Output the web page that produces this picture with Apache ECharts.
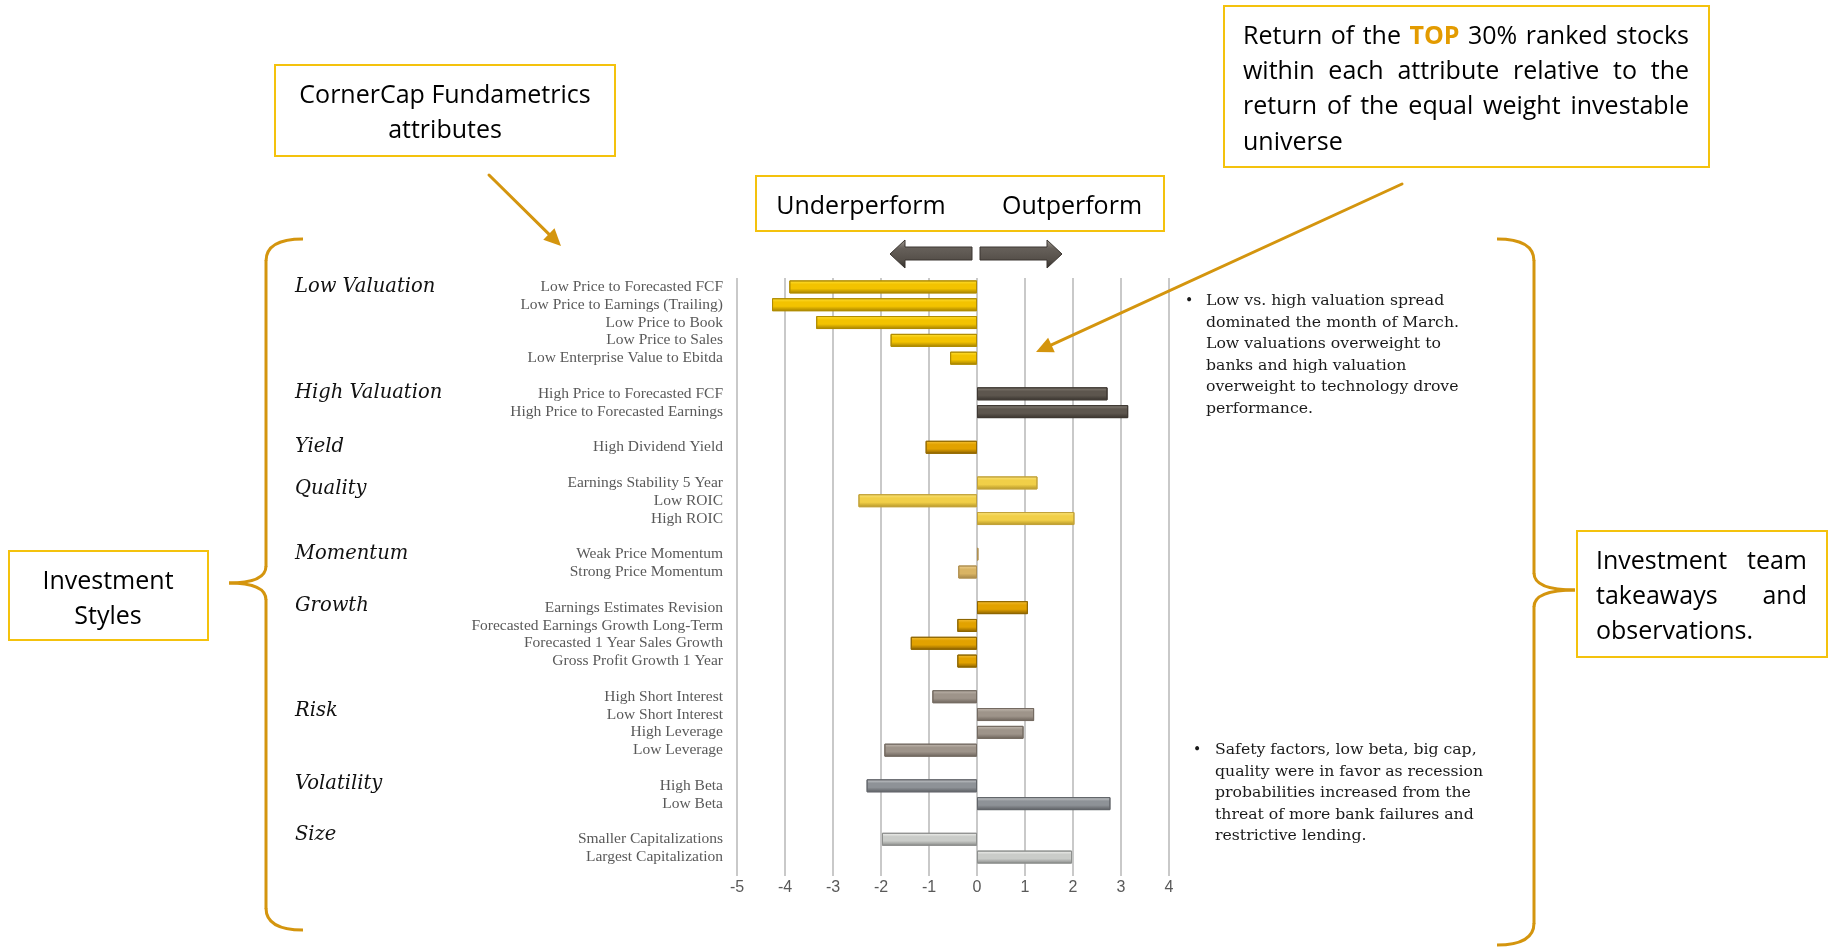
<!DOCTYPE html>
<html>
<head>
<meta charset="utf-8">
<script src="https://cdn.jsdelivr.net/npm/echarts@6/dist/echarts.min.js"></script>
<style>
html,body{margin:0;padding:0;background:#fff;}
#chart{width:1829px;height:948px;}
</style>
</head>
<body>
<div id="chart"></div>
<script>
// ---------------- DATA ----------------
const groupNames = ['Low Valuation','High Valuation','Yield','Quality','Momentum','Growth','Risk','Volatility','Size'];
const attributes = [
  'Low Price to Forecasted FCF','Low Price to Earnings (Trailing)','Low Price to Book','Low Price to Sales','Low Enterprise Value to Ebitda',
  'High Price to Forecasted FCF','High Price to Forecasted Earnings',
  'High Dividend Yield',
  'Earnings Stability 5 Year','Low ROIC','High ROIC',
  'Weak Price Momentum','Strong Price Momentum',
  'Earnings Estimates Revision','Forecasted Earnings Growth Long-Term','Forecasted 1 Year Sales Growth','Gross Profit Growth 1 Year',
  'High Short Interest','Low Short Interest','High Leverage','Low Leverage',
  'High Beta','Low Beta',
  'Smaller Capitalizations','Largest Capitalization'
];
const values = [
  -3.91,-4.27,-3.35,-1.80,-0.56,
  2.72,3.15,
  -1.07,
  1.26,-2.47,2.03,
  0.03,-0.39,
  1.06,-0.41,-1.38,-0.41,
  -0.93,1.19,0.97,-1.93,
  -2.30,2.78,
  -1.98,1.98
];
const groupOfAttribute = [0,0,0,0,0,1,1,2,3,3,3,4,4,5,5,5,5,6,6,6,6,7,7,8,8];
const xTicks = {min:-5, max:4, interval:1};

// ---------------- STYLE ----------------
const groupColors = [
  {light:'#FFE23A', main:'#F3C300', dark:'#A27F00', border:'#B08C00'},
  {light:'#8E877E', main:'#5D564E', dark:'#38332D', border:'#3E3832'},
  {light:'#F7C43A', main:'#E2A200', dark:'#8A6000', border:'#946A00'},
  {light:'#FCE67E', main:'#F1CF48', dark:'#B39428', border:'#C2A23A'},
  {light:'#EFD396', main:'#D9B464', dark:'#A48547', border:'#B09050'},
  {light:'#F5C03A', main:'#E2A200', dark:'#885F00', border:'#8E6600'},
  {light:'#C6BDB4', main:'#9E948A', dark:'#6B625A', border:'#746B62'},
  {light:'#D2D4D7', main:'#8E9297', dark:'#5A5D61', border:'#62656A'},
  {light:'#F4F4F2', main:'#CACCC9', dark:'#878987', border:'#8E908E'}
];
const groupLabelNudge = [0,-1,0,6,0,-2,14,-2,-4];
const GOLD_LINE = '#F4C20D';
const BRACE = '#D4950E';

// build categories with gaps between groups
const cats = [], barData = [], firstRowOfGroup = [];
attributes.forEach((a,i)=>{
  const g = groupOfAttribute[i];
  if (i>0 && g!==groupOfAttribute[i-1]) { cats.push(''); barData.push('-'); }
  if (firstRowOfGroup[g]===undefined) firstRowOfGroup[g] = cats.length;
  cats.push(a);
  const c = groupColors[g];
  barData.push({
    value: values[i],
    itemStyle: {
      color: new echarts.graphic.LinearGradient(0,0,0,1,[
        {offset:0,color:c.light},{offset:0.3,color:c.main},{offset:0.62,color:c.main},{offset:1,color:c.dark}
      ]),
      borderColor: c.border, borderWidth: 1
    }
  });
});

const chart = echarts.init(document.getElementById('chart'));
chart.setOption({
  backgroundColor:'#ffffff',
  animation:false,
  grid:{left:737, width:432, top:278, height:588, containLabel:false},
  xAxis:{
    type:'value', min:xTicks.min, max:xTicks.max, interval:xTicks.interval,
    axisLine:{show:false},
    axisTick:{show:true, length:10, lineStyle:{color:'#C9C9C9', width:2}},
    splitLine:{show:true, lineStyle:{color:'#C9C9C9', width:2}},
    axisLabel:{color:'#595959', fontSize:16, fontFamily:'"Liberation Sans Narrow","Liberation Sans",sans-serif', margin:14}
  },
  yAxis:{
    type:'category', inverse:true, data:cats,
    axisLine:{show:false}, axisTick:{show:false},
    axisLabel:{color:'#595959', fontSize:15.5, fontFamily:'"Liberation Serif",serif', margin:14, interval:0}
  },
  series:[{type:'bar', data:barData, barWidth:13, silent:true}]
});

// ---------------- ANNOTATIONS ----------------
const mctx = document.createElement('canvas').getContext('2d');
function measure(t, font){ mctx.font = font; return mctx.measureText(t).width; }
const SANS = '"Open Sans", sans-serif';
const BOX_FS = 25;
function fontStr(size, weight){ return (weight||'normal')+' '+size+'px '+SANS; }

function txt(x,y,text,opt){
  opt = opt||{};
  return {type:'text', x:x, y:y, silent:true, z:10, style:{
    text:text, fill:opt.fill||'#000', fontSize:opt.size||BOX_FS, fontFamily:opt.family||SANS,
    fontWeight:opt.weight||'normal', fontStyle:opt.style||'normal',
    textAlign:opt.align||'left', textVerticalAlign:'middle'
  }};
}
function justify(words, x0, x1, y, size){
  const ws = words.map(w=>measure(w.t, fontStr(size, w.weight)));
  const sum = ws.reduce((a,b)=>a+b,0);
  const gap = words.length>1 ? (x1-x0-sum)/(words.length-1) : 0;
  let x = x0; const out=[];
  words.forEach((w,i)=>{ out.push(txt(x,y,w.t,{size:size, weight:w.weight, fill:w.fill})); x += ws[i]+gap; });
  return out;
}
function W(s){ return s.split(' ').map(t=>({t:t})); }
function rect(x,y,w,h){ return {type:'rect', silent:true, z:5, shape:{x:x,y:y,width:w,height:h}, style:{fill:'#fff', stroke:GOLD_LINE, lineWidth:2}}; }
function seg(x1,y1,x2,y2,col,w){ return {type:'line', silent:true, z:6, shape:{x1:x1,y1:y1,x2:x2,y2:y2}, style:{stroke:col, lineWidth:w, lineCap:'round'}}; }
function curve(x1,y1,cx,cy,x2,y2,col,w){ return {type:'bezierCurve', silent:true, z:6, shape:{x1:x1,y1:y1,x2:x2,y2:y2,cpx1:cx,cpy1:cy}, style:{stroke:col, lineWidth:w, fill:null}}; }
function annArrow(x1,y1,x2,y2){
  const dx=x2-x1, dy=y2-y1, L=Math.sqrt(dx*dx+dy*dy), ux=dx/L, uy=dy/L;
  const hl=17, hw=8;
  const bx=x2-ux*hl, by=y2-uy*hl;
  return [
    seg(x1,y1,bx,by,BRACE,3),
    {type:'polygon', silent:true, z:6, shape:{points:[[x2,y2],[bx-uy*hw,by+ux*hw],[bx+uy*hw,by-ux*hw]]}, style:{fill:BRACE}}
  ];
}
function brace(xh,xv,xt,yt,ym,yb){
  const r=22, m=17;
  return [
    curve(xh,yt, xv,yt, xv,yt+r, BRACE,3),
    seg(xv,yt+r,xv,ym-m,BRACE,3),
    curve(xv,ym-m, xv,ym, xt,ym, BRACE,3),
    curve(xt,ym, xv,ym, xv,ym+m, BRACE,3),
    seg(xv,ym+m,xv,yb-r,BRACE,3),
    curve(xv,yb-r, xv,yb, xh,yb, BRACE,3)
  ];
}
const arrowGrad = new echarts.graphic.LinearGradient(0,0,0,1,[
  {offset:0,color:'#A49E96'},{offset:0.3,color:'#66605A'},{offset:0.7,color:'#56504A'},{offset:1,color:'#2F2B27'}
]);

const g = [];
const dy = 2.5;
// boxes
g.push(rect(275,65,340,91));
g.push(txt(445,93+dy,'CornerCap Fundametrics',{align:'center'}));
g.push(txt(445,128+dy,'attributes',{align:'center'}));

g.push(rect(1224,6,485,161));
const L1 = [{t:'Return'},{t:'of'},{t:'the'},{t:'TOP',weight:'bold',fill:'#E39B00'},{t:'30%'},{t:'ranked'},{t:'stocks'}];
g.push(...justify(L1,1243,1689,34+dy,BOX_FS));
g.push(...justify(W('within each attribute relative to the'),1243,1689,69+dy,BOX_FS));
g.push(...justify(W('return of the equal weight investable'),1243,1689,104+dy,BOX_FS));
g.push(txt(1243,140+dy,'universe'));

g.push(rect(756,176,408,55));
g.push(txt(861,204+dy,'Underperform',{align:'center'}));
g.push(txt(1072,204+dy,'Outperform',{align:'center'}));

g.push(rect(9,551,199,89));
g.push(txt(108,579+dy,'Investment',{align:'center'}));
g.push(txt(108,614+dy,'Styles',{align:'center'}));

g.push(rect(1577,531,250,126));
g.push(...justify(W('Investment team'),1596,1807,559+dy,BOX_FS));
g.push(...justify(W('takeaways and'),1596,1807,594+dy,BOX_FS));
g.push(txt(1596,629+dy,'observations.'));

// block arrows
g.push({type:'polygon', silent:true, z:6, shape:{points:[[890,254],[905,240],[905,247],[972,247],[972,260],[905,260],[905,268]]}, style:{fill:arrowGrad, stroke:'#3A3530', lineWidth:1}});
g.push({type:'polygon', silent:true, z:6, shape:{points:[[980,247],[1047,247],[1047,240],[1062,254],[1047,268],[1047,260],[980,260]]}, style:{fill:arrowGrad, stroke:'#3A3530', lineWidth:1}});

// pointer arrows
g.push(...annArrow(489,175,561,246));
g.push(...annArrow(1402,184,1036,352));

// braces
g.push(...brace(303,266,229,239,583,930));
g.push(...brace(1497,1534,1575,239,590,945));

// bullet notes
const SERIF = '"DejaVu Serif", serif';
const NOTE_FS = 15.7;
const note1 = ['Low vs. high valuation spread','dominated the month of March.','Low valuations overweight to','banks and high valuation','overweight to technology drove','performance.'];
g.push(txt(1185,301,'•',{family:SERIF,size:14,fill:'#1a1a1a'}));
note1.forEach((l,i)=>g.push(txt(1206,301+i*21.6,l,{family:SERIF,size:NOTE_FS,fill:'#1a1a1a'})));
const note2 = ['Safety factors, low beta, big cap,','quality were in favor as recession','probabilities increased from the','threat of more bank failures and','restrictive lending.'];
g.push(txt(1193,750,'•',{family:SERIF,size:14,fill:'#1a1a1a'}));
note2.forEach((l,i)=>g.push(txt(1215,750+i*21.6,l,{family:SERIF,size:NOTE_FS,fill:'#1a1a1a'})));

// group labels
groupNames.forEach((n,gi)=>{
  const y = chart.convertToPixel({yAxisIndex:0}, firstRowOfGroup[gi]) + groupLabelNudge[gi];
  g.push(txt(295,y,n,{family:SERIF,size:19.5,style:'italic',fill:'#111'}));
});

chart.setOption({graphic:{elements:g}});
</script>
</body>
</html>
